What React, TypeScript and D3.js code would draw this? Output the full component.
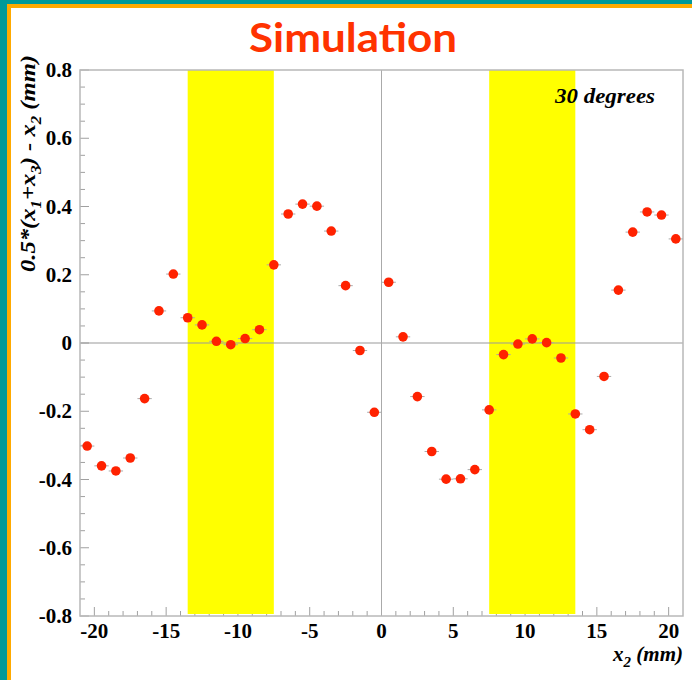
import React from "react";
import * as d3 from "d3";

const xPositions = [
  -20.5, -19.5, -18.5, -17.5, -16.5, -15.5, -14.5, -13.5, -12.5, -11.5, -10.5,
  -9.5, -8.5, -7.5, -6.5, -5.5, -4.5, -3.5, -2.5, -1.5, -0.5, 0.5, 1.5, 2.5,
  3.5, 4.5, 5.5, 6.5, 7.5, 8.5, 9.5, 10.5, 11.5, 12.5, 13.5, 14.5, 15.5, 16.5,
  17.5, 18.5, 19.5, 20.5,
];
const yValues = [
  -0.302, -0.36, -0.375, -0.337, -0.163, 0.094, 0.202, 0.074, 0.053, 0.005,
  -0.005, 0.013, 0.039, 0.229, 0.378, 0.407, 0.401, 0.328, 0.168, -0.022,
  -0.203, 0.178, 0.018, -0.157, -0.318, -0.399, -0.398, -0.371, -0.196, -0.034,
  -0.003, 0.012, 0.001, -0.044, -0.208, -0.254, -0.098, 0.155, 0.325, 0.384,
  0.375, 0.305,
];
const xErr = 0.5;
const bands = [
  [-13.5, -7.5],
  [7.5, 13.5],
];
const xMajorTicks = [-20, -15, -10, -5, 0, 5, 10, 15, 20];
const yMajorTicks = [-0.8, -0.6, -0.4, -0.2, 0, 0.2, 0.4, 0.6, 0.8];
const titleText = "Simulation";
const annotation = "30 degrees";

const W = 692;
const H = 680;
const L = 80,
  R = 683,
  T = 70,
  B = 616;

const fmtY = (v: number) => (v === 0 ? "0" : v.toFixed(1));

export default function App() {
  const x = d3.scaleLinear().domain([-21, 21]).range([L, R]);
  const y = d3.scaleLinear().domain([-0.8, 0.8]).range([B, T]);
  const xMinor = d3.range(-20, 21, 1).filter((v) => v % 5 !== 0);
  const yMinor = d3
    .range(-16, 17, 1)
    .filter((k) => k % 4 !== 0)
    .map((k) => k * 0.05);
  const tickColor = "#a0a0a0";
  const serif = "'Liberation Serif', 'Times New Roman', serif";
  return (
    <svg
      width={W}
      height={H}
      style={{ position: "absolute", left: 0, top: 0 }}
      xmlns="http://www.w3.org/2000/svg"
    >
      <rect x={0} y={0} width={W} height={H} fill="#ffffff" />
      <rect x={0} y={0} width={W} height={4} fill="#009999" />
      <rect x={0} y={0} width={7} height={H} fill="#009999" />
      <rect x={7} y={4} width={W - 7} height={4} fill="#ffaa00" />
      <rect x={7} y={4} width={4} height={H - 4} fill="#ffaa00" />

      <text
        x={353}
        y={52}
        textAnchor="middle"
        fontFamily="Lato, 'Open Sans', sans-serif"
        fontWeight="bold"
        fontSize={40}
        fill="#ff3300"
        textLength={208}
        lengthAdjust="spacingAndGlyphs"
      >
        {titleText}
      </text>

      {/* ticks */}
      <g stroke={tickColor} strokeWidth={1}>
        {xMajorTicks.map((t) => (
          <line key={"xm" + t} x1={x(t)} x2={x(t)} y1={B} y2={B - 9} />
        ))}
        {xMinor.map((t) => (
          <line key={"xn" + t} x1={x(t)} x2={x(t)} y1={B} y2={B - 5} />
        ))}
        {yMajorTicks.map((t) => (
          <line key={"ym" + t} x1={L} x2={L + 9} y1={y(t)} y2={y(t)} />
        ))}
        {yMinor.map((t) => (
          <line key={"yn" + t} x1={L} x2={L + 5} y1={y(t)} y2={y(t)} />
        ))}
      </g>

      {/* bands */}
      {bands.map((b, i) => (
        <rect
          key={"b" + i}
          x={x(b[0])}
          y={T}
          width={x(b[1]) - x(b[0])}
          height={B - T - 2}
          fill="#ffff00"
        />
      ))}

      {/* zero lines */}
      <line x1={L} x2={R} y1={y(0)} y2={y(0)} stroke="#999999" strokeWidth={1} />
      <line x1={x(0)} x2={x(0)} y1={T} y2={B} stroke="#aaaaaa" strokeWidth={1} />

      {/* frame */}
      <rect
        x={L}
        y={T}
        width={R - L}
        height={B - T}
        fill="none"
        stroke="#b8b8b8"
        strokeWidth={1.5}
      />

      {/* points */}
      {xPositions.map((xv, i) => (
        <g key={"p" + i}>
          <line
            x1={x(xv - xErr)}
            x2={x(xv + xErr)}
            y1={y(yValues[i])}
            y2={y(yValues[i])}
            stroke="#aaaaaa"
            strokeWidth={1}
          />
          <circle cx={x(xv)} cy={y(yValues[i])} r={4.8} fill="#ff2200" />
        </g>
      ))}

      {/* tick labels */}
      <g fontFamily={serif} fontWeight="bold" fontSize={21} fill="#000">
        {xMajorTicks.map((t) => (
          <text key={"xl" + t} x={x(t)} y={638} textAnchor="middle">
            {String(t)}
          </text>
        ))}
        {yMajorTicks.map((t) => (
          <text key={"yl" + t} x={72} y={y(t) + 7} textAnchor="end">
            {fmtY(t)}
          </text>
        ))}
      </g>

      {/* axis titles */}
      <text
        x={R}
        y={661}
        textAnchor="end"
        fontFamily={serif}
        fontWeight="bold"
        fontStyle="italic"
        fontSize={21}
      >
        x<tspan dy={6} fontSize={15}>2</tspan>
        <tspan dy={-6}> (mm)</tspan>
      </text>

      <text
        transform="translate(35,55) rotate(-90)"
        textAnchor="end"
        fontFamily={serif}
        fontWeight="bold"
        fontStyle="italic"
        fontSize={22}
        textLength={217}
        lengthAdjust="spacingAndGlyphs"
      >
        0.5*(x<tspan dy={6} fontSize={15}>1</tspan>
        <tspan dy={-6}>+x</tspan>
        <tspan dy={6} fontSize={15}>3</tspan>
        <tspan dy={-6}>) - x</tspan>
        <tspan dy={6} fontSize={15}>2</tspan>
        <tspan dy={-6}> (mm)</tspan>
      </text>

      <text
        x={555}
        y={103}
        fontFamily={serif}
        fontWeight="bold"
        fontStyle="italic"
        fontSize={21}
        textLength={100}
        lengthAdjust="spacingAndGlyphs"
      >
        {annotation}
      </text>
    </svg>
  );
}
